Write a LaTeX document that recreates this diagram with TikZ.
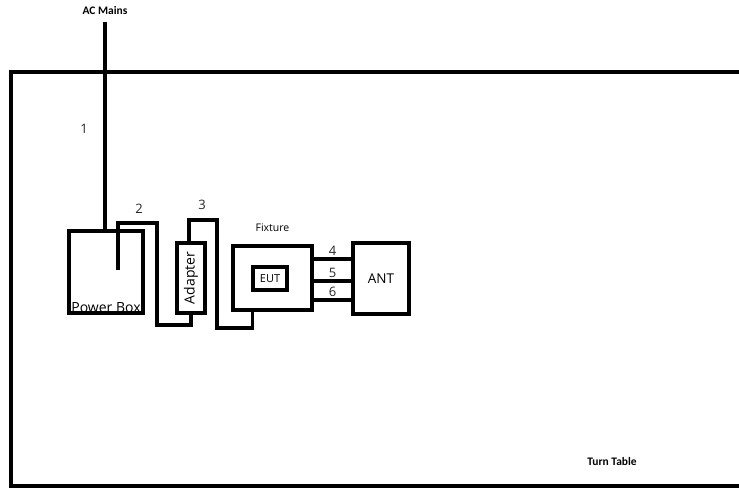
\documentclass[tikz,border=0pt]{standalone}
\usepackage{fontspec}
\setmainfont{Open Sans}
\newfontfamily\tagfont{Carlito}
\usetikzlibrary{positioning}
\tikzset{
  unit/.style={draw, line width=3.6pt, inner sep=0pt, outer sep=0pt, font=\fontsize{14}{16}\selectfont},
  wire/.style={line width=3.6pt},
  num/.style={font=\fontsize{13}{15}\selectfont, text=black!85},
  tag/.style={font=\tagfont\bfseries\fontsize{11.5}{13}\selectfont},
}
\begin{document}
\begin{tikzpicture}[x=1pt, y=-1pt]
    \useasboundingbox (0,0) rectangle (739,488);

    % 1. Turn table edge
    \draw[wire] (739,72) -- (11,72) -- (11,486) -- (739,486);
    \node[tag] (turntable) at (612,461) {Turn Table};

    % 2. Boxes
    \node[unit, minimum width=74pt, minimum height=82pt] (pbox) at (106,272) {};
    \node[anchor=base, inner sep=0pt, font=\fontsize{14}{16}\selectfont] (pblabel) at ([yshift=1pt]pbox.south) {Power Box};
    \node[unit, minimum width=28pt, minimum height=70pt] (adapter) at (191,278) {\rotatebox{90}{Adapter}};
    \node[unit, minimum width=79pt, minimum height=64pt] (fixture) at (272.5,278) {};
    \node[above=14pt of fixture, inner sep=0pt, font=\fontsize{10.5}{12}\selectfont] (fixlabel) {Fixture};
    \node[unit, minimum width=34pt, minimum height=23pt, font=\fontsize{11}{13}\selectfont] (eut) at (270,278.5) {EUT};
    \node[unit, minimum width=56pt, minimum height=71pt, font=\fontsize{13.5}{15}\selectfont] (ant) at (381,278.5) {ANT};

    % 3. AC mains cable (1)
    \node[tag] (acmains) at (105,11) {AC Mains};
    \coordinate (mains) at (105,22);
    \draw[wire] (mains) -- (mains |- pbox.north);
    \node[num] (n1) at (84,129) {1};

    % 4. Cable from power box to adapter (2)
    \coordinate (plug) at (118,270);
    \draw[wire] (plug) -- ++(0,-47) -| ++(39,102) -| (adapter.south);
    \node[num] (n2) at (139,209) {2};

    % 5. Cable from adapter to fixture (3)
    \draw[wire] ([xshift=-2pt]adapter.north) -- ++(0,-23) -| ++(28,108) -| ([xshift=-20pt]fixture.south);
    \node[num] (n3) at (202,205) {3};

    % 6. Cables from fixture to antenna (4, 5, 6)
    \foreach \n/\dy in {4/19, 5/-3, 6/-22} {
        \coordinate (l\n) at ([yshift=\dy pt]fixture.east);
        \draw[wire] (l\n) -- (l\n -| ant.west) node[midway, above, num, inner sep=2pt] {\n};
    }
\end{tikzpicture}
\end{document}
